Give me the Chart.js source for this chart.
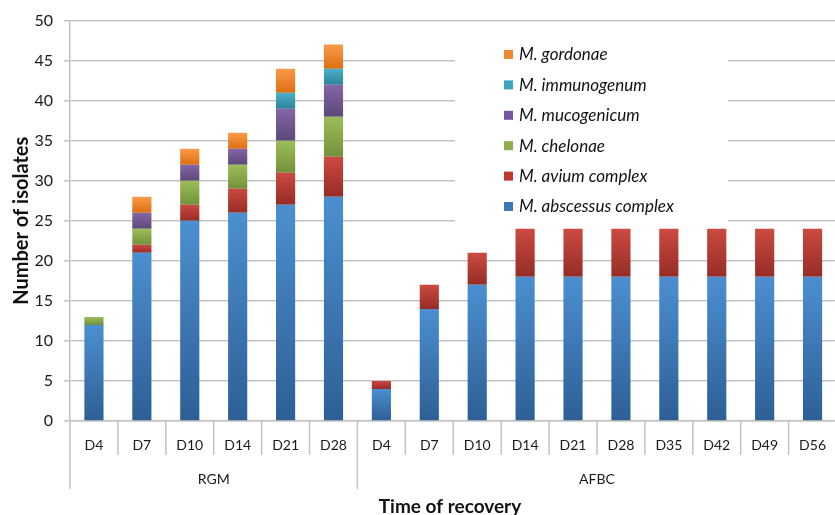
<!DOCTYPE html>
<html>
<head>
<meta charset="utf-8">
<script src="https://cdn.jsdelivr.net/npm/chart.js@4/dist/chart.umd.min.js"></script>
<style>
    html, body { margin: 0; padding: 0; background: #fff; overflow: hidden; }
    #wrap { width: 835px; height: 515px; overflow: hidden; }
</style>
</head>
<body>
<div id="wrap"><canvas id="chart" width="842" height="515"></canvas></div>
<script>
// Categories (recovery day) and the two groups they belong to
const categories = ['D4', 'D7', 'D10', 'D14', 'D21', 'D28',
                    'D4', 'D7', 'D10', 'D14', 'D21', 'D28', 'D35', 'D42', 'D49', 'D56'];
const groupNames = ['RGM', 'AFBC'];
const groupSizes = [6, 10];

// Number of isolates per species (stacked from bottom to top)
const abscessus   = [12, 21, 25, 26, 27, 28, 4, 14, 17, 18, 18, 18, 18, 18, 18, 18];
const avium       = [0, 1, 2, 3, 4, 5, 1, 3, 4, 6, 6, 6, 6, 6, 6, 6];
const chelonae    = [1, 2, 3, 3, 4, 5, 0, 0, 0, 0, 0, 0, 0, 0, 0, 0];
const mucogenicum = [0, 2, 2, 2, 4, 4, 0, 0, 0, 0, 0, 0, 0, 0, 0, 0];
const immunogenum = [0, 0, 0, 0, 2, 2, 0, 0, 0, 0, 0, 0, 0, 0, 0, 0];
const gordonae    = [0, 2, 2, 2, 3, 3, 0, 0, 0, 0, 0, 0, 0, 0, 0, 0];

const yTicks = [0, 5, 10, 15, 20, 25, 30, 35, 40, 45, 50];

const FONT = 'Lato, "Open Sans", "DejaVu Sans", sans-serif';
const GRID = '#c3c3c3';

// Vertical gradient for one stacked segment, like the Excel fill
function segmentFill(ctx, light, dark) {
    const chart = ctx.chart;
    if (!chart.chartArea || ctx.type !== 'data') return light;
    const i = ctx.datasetIndex, j = ctx.dataIndex;
    let base = 0;
    for (let k = 0; k < i; k++) base += chart.data.datasets[k].data[j] || 0;
    const v = chart.data.datasets[i].data[j] || 0;
    const y = chart.scales.y;
    const y0 = y.getPixelForValue(base);
    const y1 = y.getPixelForValue(base + v);
    if (!isFinite(y0) || !isFinite(y1) || y0 === y1) return light;
    const g = chart.ctx.createLinearGradient(0, y1, 0, y0);
    g.addColorStop(0, light);
    g.addColorStop(1, dark);
    return g;
}

function series(label, data, light, dark, swatch) {
    return {
        label: label,
        data: data,
        swatch: swatch,
        backgroundColor: (c) => segmentFill(c, light, dark),
        borderWidth: 0,
        barPercentage: 0.8,
        categoryPercentage: 0.5
    };
}

// Draws the white legend box, group row and axis titles
const decorations = {
    id: 'decorations',
    beforeDatasetsDraw(chart) {
        const ctx = chart.ctx;
        ctx.save();
        ctx.fillStyle = '#fff';
        ctx.fillRect(455, 38, 273, 187);
        ctx.restore();
    },
    afterDraw(chart) {
        const ctx = chart.ctx;
        const x = chart.scales.x;
        const area = chart.chartArea;
        const w = (area.right - area.left) / categories.length;
        const axisY = area.bottom;

        ctx.save();
        // category separators and group separators
        ctx.strokeStyle = GRID;
        ctx.lineWidth = 1.5;
        const groupEdges = [0];
        groupSizes.forEach((n, g) => groupEdges.push(groupEdges[g] + n));
        for (let i = 0; i <= categories.length; i++) {
            const px = x.getPixelForValue(0) - w / 2 + i * w;
            const long = groupEdges.includes(i);
            ctx.beginPath();
            ctx.moveTo(px, axisY);
            ctx.lineTo(px, long ? 489 : 455);
            ctx.stroke();
        }

        // group labels
        ctx.fillStyle = '#1a1a1a';
        ctx.font = '14px ' + FONT;
        ctx.textAlign = 'center';
        ctx.textBaseline = 'middle';
        groupNames.forEach((name, g) => {
            const a = area.left + groupEdges[g] * w;
            const b = area.left + groupEdges[g + 1] * w;
            ctx.fillText(name, (a + b) / 2, 479);
        });

        // axis titles
        ctx.fillStyle = '#111';
        ctx.font = 'bold 19px ' + FONT;
        ctx.fillText('Time of recovery', 450, 507);
        ctx.save();
        ctx.translate(22, (area.top + area.bottom) / 2);
        ctx.rotate(-Math.PI / 2);
        ctx.font = 'bold 20px ' + FONT;
        ctx.fillText('Number of isolates', 0, 0);
        ctx.restore();

        // legend, top of stack first
        const sets = chart.data.datasets.slice().reverse();
        ctx.font = 'italic 17px ' + FONT;
        ctx.textAlign = 'left';
        sets.forEach((ds, k) => {
            const cy = 55 + k * 30.4;
            ctx.fillStyle = ds.swatch;
            ctx.fillRect(504, cy - 5, 9, 9);
            ctx.fillStyle = '#111';
            ctx.fillText(ds.label, 519, cy);
        });
        ctx.restore();
    }
};

const chart = new Chart(document.getElementById('chart'), {
    type: 'bar',
    data: {
        labels: categories,
        datasets: [
            series('M. abscessus complex', abscessus, '#4b8fd0', '#2d5f95', '#3b78b8'),
            series('M. avium complex', avium, '#cb4a40', '#962c27', '#c0392e'),
            series('M. chelonae', chelonae, '#9dbd5a', '#74913a', '#8cad4b'),
            series('M. mucogenicum', mucogenicum, '#8467a6', '#5d4879', '#7558a0'),
            series('M. immunogenum', immunogenum, '#4cb0c9', '#2f8299', '#3ea3bd'),
            series('M. gordonae', gordonae, '#f89b4c', '#e06e10', '#f08a2c')
        ]
    },
    options: {
        responsive: false,
        animation: false,
        layout: { padding: { top: 18, right: 0, left: 0, bottom: 0 } },
        plugins: {
            legend: { display: false },
            tooltip: { enabled: false }
        },
        scales: {
            x: {
                stacked: true,
                afterFit: (s) => { s.height = 94; },
                grid: { display: true, drawOnChartArea: false, drawTicks: false },
                border: { color: GRID, width: 1.5 },
                ticks: {
                    color: '#1a1a1a',
                    padding: 16,
                    maxRotation: 0,
                    autoSkip: false,
                    font: { family: FONT, size: 14 }
                }
            },
            y: {
                stacked: true,
                min: 0,
                max: 50,
                afterFit: (s) => { s.width = 70; },
                afterBuildTicks: (s) => { s.ticks = yTicks.map(v => ({ value: v })); },
                grid: { color: GRID, lineWidth: 1.5, tickLength: 6 },
                border: { color: GRID, width: 1.5 },
                ticks: {
                    color: '#1a1a1a',
                    padding: 11,
                    font: { family: FONT, size: 16 }
                }
            }
        }
    },
    plugins: [decorations]
});
</script>
</body>
</html>
